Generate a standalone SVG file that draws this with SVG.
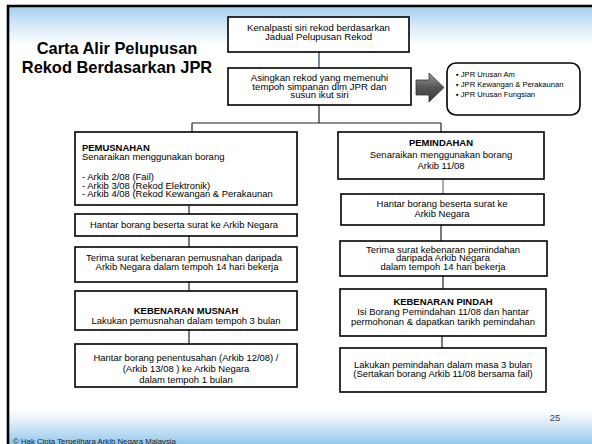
<svg xmlns="http://www.w3.org/2000/svg" width="592" height="444" viewBox="0 0 592 444">
<defs>
<linearGradient id="sky" x1="0" y1="0" x2="0" y2="1">
<stop offset="0" stop-color="#9fcdee"/>
<stop offset="0.45" stop-color="#d3e8f7"/>
<stop offset="1" stop-color="#ffffff"/>
</linearGradient>
<linearGradient id="sea" x1="0" y1="0" x2="0" y2="1">
<stop offset="0" stop-color="#ffffff"/>
<stop offset="0.5" stop-color="#cfe6f6"/>
<stop offset="1" stop-color="#93c8ec"/>
</linearGradient>
<linearGradient id="arrowFill" x1="0" y1="0" x2="0" y2="1">
<stop offset="0" stop-color="#9a9a9a"/>
<stop offset="0.5" stop-color="#555555"/>
<stop offset="1" stop-color="#3a3a3a"/>
</linearGradient>
</defs>
<style>
.box{fill:#ffffff;stroke:#000000;stroke-width:1.6}
.t{font-family:"Liberation Sans",Arial,sans-serif;font-size:8.6px;fill:#000000;text-anchor:middle}
.l{text-anchor:start}
.b{font-weight:bold}
.conn line{stroke:#222222;stroke-width:1.2}
</style>
<rect x="0" y="0" width="592" height="444" fill="#ffffff"/>
<rect x="8" y="6" width="584" height="40" fill="url(#sky)"/>
<rect x="8" y="410" width="584" height="34" fill="url(#sea)"/>
<path d="M8,444 V6 H592" fill="none" stroke="#000000" stroke-width="2.6"/>

<g id="title">
<text class="t b" x="117" y="54" style="font-size:16.4px">Carta Alir Pelupusan</text>
<text class="t b" x="117" y="73" style="font-size:16.4px">Rekod Berdasarkan JPR</text>
</g>

<g class="conn" id="connectors">
<line x1="319" y1="52" x2="319" y2="68" style="stroke:#1f3f66"/>
<line x1="319" y1="105" x2="319" y2="123"/>
<line x1="192" y1="123" x2="441" y2="123"/>
<line x1="192" y1="123" x2="192" y2="132"/>
<line x1="441" y1="123" x2="441" y2="132"/>
<line x1="189" y1="205" x2="189" y2="214"/>
<line x1="189" y1="236" x2="189" y2="247"/>
<line x1="189" y1="282" x2="189" y2="291"/>
<line x1="189" y1="330" x2="189" y2="344"/>
<line x1="443" y1="179" x2="443" y2="194" style="stroke:#777777"/>
<line x1="441" y1="225" x2="441" y2="241"/>
<line x1="443" y1="276" x2="443" y2="289"/>
<line x1="442" y1="336" x2="442" y2="348"/>
</g>

<g id="n1">
<rect class="box" x="228" y="17" width="181" height="35"/>
<text class="t" transform="translate(318.5,31) scale(1.12,1)">Kenalpasti siri rekod berdasarkan</text>
<text class="t" transform="translate(318.5,40) scale(1.12,1)">Jadual Pelupusan Rekod</text>
</g>

<g id="n2">
<rect class="box" x="228" y="68" width="183" height="37"/>
<text class="t" transform="translate(319.5,81) scale(1.12,1)">Asingkan rekod yang memenuhi</text>
<text class="t" transform="translate(319.5,89.5) scale(1.12,1)">tempoh simpanan dlm JPR dan</text>
<text class="t" transform="translate(319.5,98) scale(1.12,1)">susun ikut siri</text>
</g>

<g id="arrow">
<path d="M416,80 H429 V73 L444,87.5 L429,102 V95 H416 Z" fill="url(#arrowFill)" stroke="#333333" stroke-width="0.8"/>
</g>

<g id="jprlist">
<rect class="box" x="447" y="63" width="133" height="52" rx="9" ry="9"/>
<text class="t l" x="456" y="77" style="font-size:7.6px">▪ JPR Urusan Am</text>
<text class="t l" x="456" y="87" style="font-size:7.6px">▪ JPR Kewangan &amp; Perakaunan</text>
<text class="t l" x="456" y="97" style="font-size:7.6px">▪ JPR Urusan Fungsian</text>
</g>

<g id="pemusnahan">
<rect class="box" x="75" y="132" width="222" height="73"/>
<text class="t l b" transform="translate(82,151) scale(1.1,1)">PEMUSNAHAN</text>
<text class="t l" transform="translate(82,160) scale(1.1,1)">Senaraikan menggunakan borang</text>
<text class="t l" transform="translate(82,180) scale(1.1,1)">- Arkib 2/08 (Fail)</text>
<text class="t l" transform="translate(82,188.5) scale(1.1,1)">- Arkib 3/08 (Rekod Elektronik)</text>
<text class="t l" transform="translate(82,197) scale(1.1,1)">- Arkib 4/08 (Rekod Kewangan &amp; Perakaunan</text>
</g>

<g id="hantar1">
<rect class="box" x="75" y="214" width="222" height="22"/>
<text class="t" transform="translate(184,228) scale(1.1,1)">Hantar borang beserta  surat ke Arkib Negara</text>
</g>

<g id="terima1">
<rect class="box" x="75" y="247" width="222" height="35"/>
<text class="t" transform="translate(184,261) scale(1.1,1)">Terima surat  kebenaran pemusnahan  daripada</text>
<text class="t" transform="translate(187,270) scale(1.1,1)">Arkib Negara  dalam tempoh 14 hari bekerja</text>
</g>

<g id="musnah">
<rect class="box" x="75" y="291" width="222" height="39"/>
<text class="t b" transform="translate(186,314) scale(1.1,1)">KEBENARAN MUSNAH</text>
<text class="t" transform="translate(186,323.5) scale(1.1,1)">Lakukan pemusnahan dalam tempoh 3 bulan</text>
</g>

<g id="hantar2">
<rect class="box" x="75" y="344" width="222" height="43"/>
<text class="t" transform="translate(186,360.5) scale(1.1,1)">Hantar borang penentusahan (Arkib 12/08) /</text>
<text class="t" transform="translate(186,372) scale(1.1,1)">(Arkib 13/08 ) ke Arkib Negara</text>
<text class="t" transform="translate(186,383) scale(1.1,1)">dalam tempoh 1 bulan</text>
</g>

<g id="pemindahan">
<rect class="box" x="338" y="132" width="206" height="47"/>
<text class="t b" transform="translate(441,145.5) scale(1.1,1)">PEMINDAHAN</text>
<text class="t" transform="translate(441,157.5) scale(1.1,1)">Senaraikan menggunakan borang</text>
<text class="t" transform="translate(441,168.5) scale(1.1,1)">Arkib 11/08</text>
</g>

<g id="hantar3">
<rect class="box" x="341" y="194" width="203" height="31"/>
<text class="t" transform="translate(442,206.5) scale(1.1,1)">Hantar borang beserta surat ke</text>
<text class="t" transform="translate(442,216.5) scale(1.1,1)">Arkib Negara</text>
</g>

<g id="terima2">
<rect class="box" x="340" y="241" width="207" height="35"/>
<text class="t" transform="translate(443,252.5) scale(1.1,1)">Terima surat  kebenaran  pemindahan</text>
<text class="t" transform="translate(443,261) scale(1.1,1)">daripada  Arkib Negara</text>
<text class="t" transform="translate(443,269.5) scale(1.1,1)">dalam tempoh 14 hari bekerja</text>
</g>

<g id="pindah">
<rect class="box" x="340" y="289" width="206" height="47"/>
<text class="t b" transform="translate(443,304.5) scale(1.1,1)">KEBENARAN PINDAH</text>
<text class="t" transform="translate(443,314.5) scale(1.1,1)">Isi Borang Pemindahan 11/08 dan hantar</text>
<text class="t" transform="translate(443,324.5) scale(1.1,1)">permohonan &amp; dapatkan tarikh pemindahan</text>
</g>

<g id="lakukan">
<rect class="box" x="340" y="348" width="206" height="44"/>
<text class="t" transform="translate(443,367.5) scale(1.1,1)">Lakukan pemindahan dalam masa 3 bulan</text>
<text class="t" transform="translate(443,376.5) scale(1.1,1)">(Sertakan borang Arkib 11/08 bersama fail)</text>
</g>

<g id="footer">
<text class="t" x="555" y="421" style="font-size:9.5px;fill:#444444">25</text>
<text class="t l" x="13" y="443.5" style="font-size:7.8px;fill:#222222">© Hak Cipta Terpelihara Arkib Negara Malaysia</text>
</g>
</svg>
